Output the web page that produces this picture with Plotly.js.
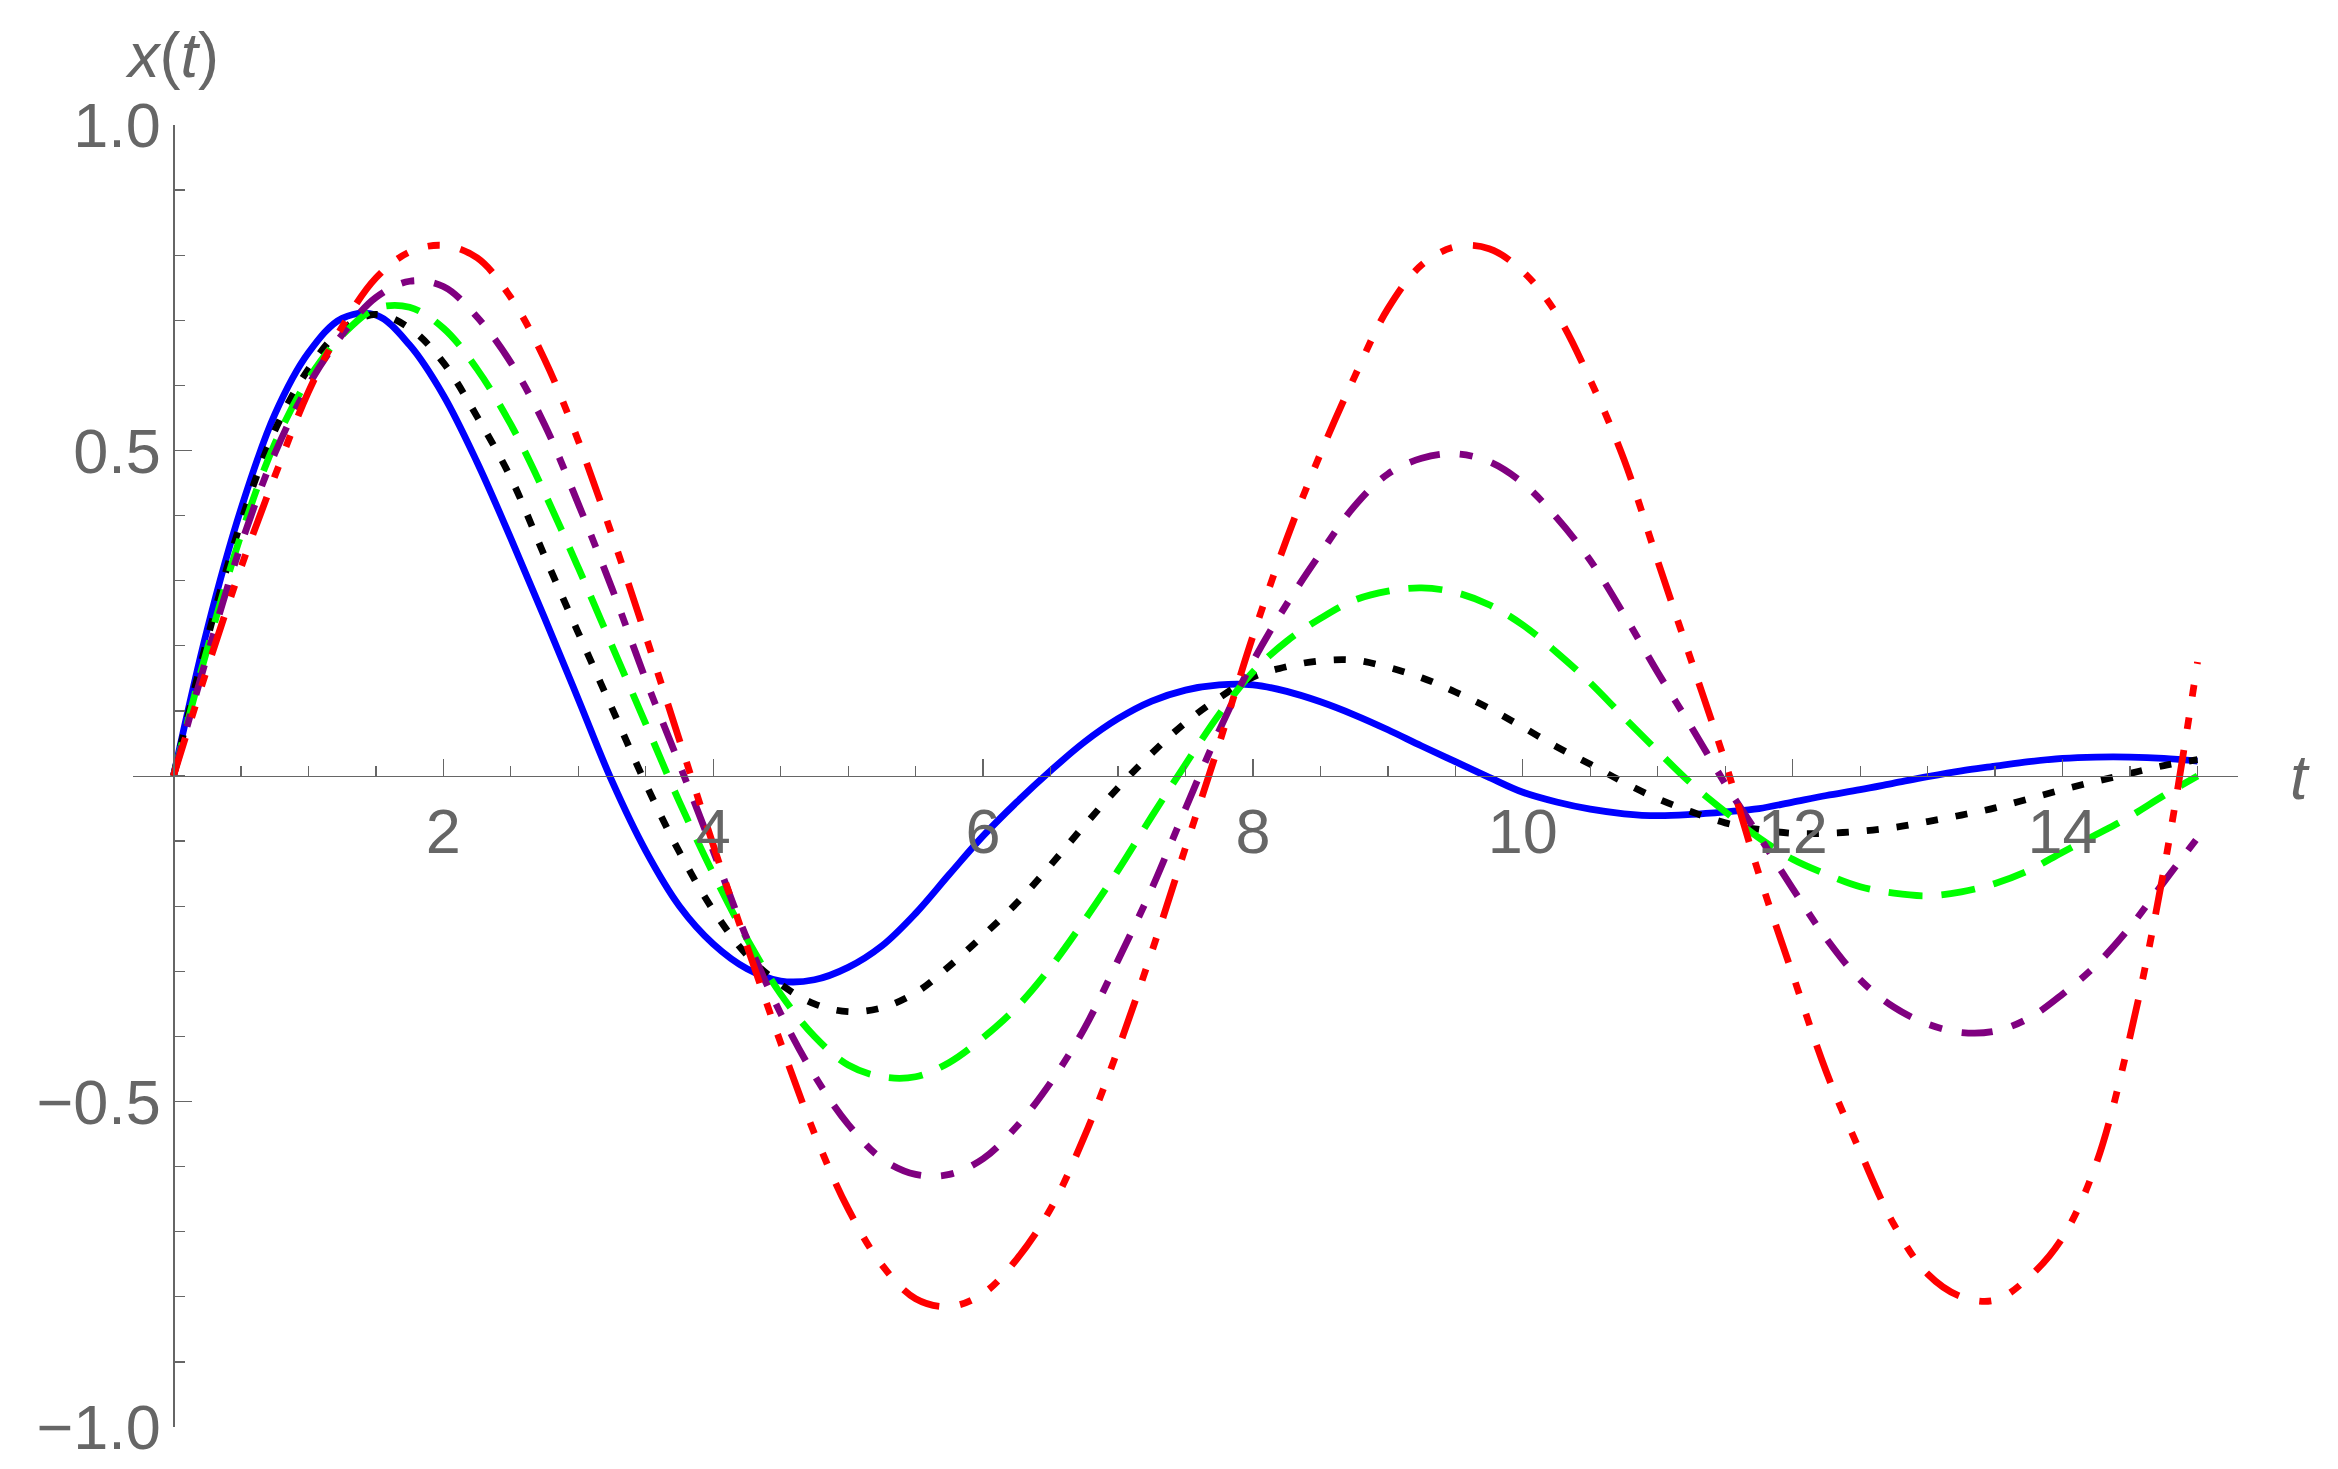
<!DOCTYPE html>
<html>
<head>
<meta charset="utf-8">
<script src="https://cdn.plot.ly/plotly-3.0.1.min.js"></script>
<style>
  html, body { margin: 0; padding: 0; background: #ffffff; }
  #chart { width: 2338px; height: 1469px; }
</style>
</head>
<body>
<div id="chart"></div>
<script>
// ---- data ----
const tValues = [0, 0.25, 0.5, 0.75, 1, 1.25, 1.5, 1.75, 2, 2.25, 2.5, 2.75, 3, 3.25, 3.5, 3.75,
  4, 4.25, 4.5, 4.75, 5, 5.25, 5.5, 5.75, 6, 6.25, 6.5, 6.75, 7, 7.25, 7.5, 7.75,
  8, 8.25, 8.5, 8.75, 9, 9.25, 9.5, 9.75, 10, 10.25, 10.5, 10.75, 11, 11.25, 11.5, 11.75,
  12, 12.25, 12.5, 12.75, 13, 13.25, 13.5, 13.75, 14, 14.25, 14.5, 14.75, 15];

const blueSeries = [0, 0.225, 0.41, 0.555, 0.65, 0.703, 0.708, 0.662, 0.585, 0.482, 0.365, 0.243, 0.118, -0.008, -0.115, -0.2,
  -0.258, -0.296, -0.315, -0.313, -0.294, -0.261, -0.211, -0.151, -0.092, -0.04, 0.008, 0.052, 0.088, 0.115, 0.132, 0.14,
  0.14, 0.13, 0.114, 0.094, 0.071, 0.046, 0.022, -0.002, -0.025, -0.04, -0.051, -0.058, -0.061, -0.059, -0.055, -0.05,
  -0.04, -0.03, -0.021, -0.011, -0.001, 0.008, 0.015, 0.022, 0.027, 0.029, 0.029, 0.027, 0.023];

const blackSeries = [0, 0.21, 0.39, 0.53, 0.625, 0.686, 0.709, 0.688, 0.635, 0.552, 0.458, 0.338, 0.22, 0.104, -0.012, -0.117,
  -0.206, -0.275, -0.32, -0.35, -0.362, -0.356, -0.333, -0.292, -0.245, -0.195, -0.137, -0.076, -0.018, 0.035, 0.082, 0.12,
  0.152, 0.168, 0.177, 0.178, 0.167, 0.151, 0.129, 0.104, 0.075, 0.045, 0.018, -0.01, -0.035, -0.055, -0.072, -0.082,
  -0.088, -0.088, -0.085, -0.079, -0.07, -0.06, -0.049, -0.035, -0.021, -0.008, 0.004, 0.016, 0.025];

const greenSeries = [0, 0.195, 0.37, 0.51, 0.61, 0.677, 0.718, 0.72, 0.688, 0.625, 0.54, 0.435, 0.32, 0.2, 0.08, -0.04,
  -0.15, -0.25, -0.335, -0.4, -0.444, -0.462, -0.462, -0.44, -0.402, -0.355, -0.294, -0.222, -0.145, -0.062, 0.018, 0.095,
  0.16, 0.207, 0.242, 0.27, 0.284, 0.289, 0.282, 0.263, 0.232, 0.19, 0.143, 0.09, 0.038, -0.012, -0.055, -0.095,
  -0.128, -0.151, -0.17, -0.18, -0.184, -0.178, -0.165, -0.145, -0.117, -0.09, -0.062, -0.03, 0.0];

const purpleSeries = [0, 0.185, 0.355, 0.495, 0.6, 0.678, 0.735, 0.76, 0.752, 0.705, 0.635, 0.54, 0.418, 0.288, 0.148, 0.018,
  -0.115, -0.25, -0.365, -0.46, -0.535, -0.588, -0.612, -0.612, -0.588, -0.538, -0.471, -0.388, -0.283, -0.173, -0.05, 0.07,
  0.176, 0.264, 0.342, 0.414, 0.464, 0.488, 0.495, 0.483, 0.45, 0.397, 0.331, 0.248, 0.159, 0.075, -0.012, -0.092,
  -0.173, -0.25, -0.313, -0.355, -0.381, -0.394, -0.392, -0.372, -0.335, -0.29, -0.232, -0.163, -0.095];

const redSeries = [0, 0.165, 0.32, 0.46, 0.59, 0.69, 0.765, 0.805, 0.815, 0.796, 0.735, 0.64, 0.515, 0.37, 0.215, 0.055,
  -0.106, -0.261, -0.41, -0.549, -0.665, -0.751, -0.803, -0.815, -0.795, -0.742, -0.665, -0.554, -0.42, -0.27, -0.11, 0.05,
  0.215, 0.364, 0.495, 0.612, 0.718, 0.785, 0.813, 0.81, 0.775, 0.71, 0.608, 0.486, 0.33, 0.176, 0.021, -0.151,
  -0.305, -0.455, -0.577, -0.689, -0.765, -0.8, -0.805, -0.77, -0.709, -0.595, -0.4, -0.145, 0.175];

const xTickValues = [2, 4, 6, 8, 10, 12, 14];
const xTickLabels = ['2', '4', '6', '8', '10', '12', '14'];
const yTickValues = [-1, -0.5, 0.5, 1];
const yTickLabels = ['\u22121.0', '\u22120.5', '0.5', '1.0'];

// ---- styles ----
const axisGray = '#666666';
const font = 'Liberation Sans, Arial, Helvetica, sans-serif';
const W = 6.8;

function curve(y, color, dash) {
  return {
    type: 'scatter', mode: 'lines', x: tValues, y: y,
    line: { color: color, width: W, dash: dash, shape: 'spline', smoothing: 1 },
    hoverinfo: 'skip', showlegend: false
  };
}

const traces = [
  curve(blueSeries, '#0000ff', 'solid'),
  curve(blackSeries, '#000000', '12px,18px'),
  curve(greenSeries, '#00ff00', '34px,19px'),
  curve(purpleSeries, '#800080', '31px,20px,13px,20px'),
  curve(redSeries, '#ff0000', '40px,21px,12px,21px,12px,21px')
];

const xmin = -0.3, xmax = 15.3;
const yAxisPos = (0 - xmin) / (xmax - xmin);

const layout = {
  width: 2338, height: 1469,
  margin: { l: 133, r: 100, t: 125, b: 42, pad: 0 },
  paper_bgcolor: '#ffffff', plot_bgcolor: '#ffffff',
  showlegend: false,
  xaxis: {
    range: [xmin, xmax], anchor: 'free', position: 0.5,
    showline: true, linecolor: axisGray, linewidth: 1.3,
    showgrid: false, zeroline: false,
    tickmode: 'array', tickvals: xTickValues, ticktext: xTickLabels,
    ticks: 'inside', ticklen: 17, tickwidth: 1.3, tickcolor: axisGray,
    tickfont: { family: font, size: 63, color: axisGray },
    minor: { tickmode: 'linear', tick0: 0, dtick: 0.5, ticks: 'inside', ticklen: 10, tickwidth: 1.3, tickcolor: axisGray, showgrid: false }
  },
  yaxis: {
    range: [-1, 1], anchor: 'free', position: yAxisPos,
    showline: true, linecolor: axisGray, linewidth: 1.3,
    showgrid: false, zeroline: false,
    tickmode: 'array', tickvals: yTickValues, ticktext: yTickLabels,
    ticks: 'inside', ticklen: 17, tickwidth: 1.3, tickcolor: axisGray,
    tickfont: { family: font, size: 63, color: axisGray },
    minor: { tickmode: 'linear', tick0: 0, dtick: 0.1, ticks: 'inside', ticklen: 10, tickwidth: 1.3, tickcolor: axisGray, showgrid: false }
  },
  annotations: [
    {
      text: '<i>x</i>(<i>t</i>)', xref: 'paper', yref: 'paper',
      x: 0.0185, y: 1.054, xanchor: 'center', yanchor: 'middle', showarrow: false,
      font: { family: font, size: 63, color: axisGray }
    },
    {
      text: '<i>t</i>', xref: 'paper', yref: 'paper',
      x: 1.0295, y: 0.499, xanchor: 'center', yanchor: 'middle', showarrow: false,
      font: { family: font, size: 63, color: axisGray }
    }
  ]
};

Plotly.newPlot('chart', traces, layout, { displayModeBar: false, staticPlot: true });
</script>
</body>
</html>
